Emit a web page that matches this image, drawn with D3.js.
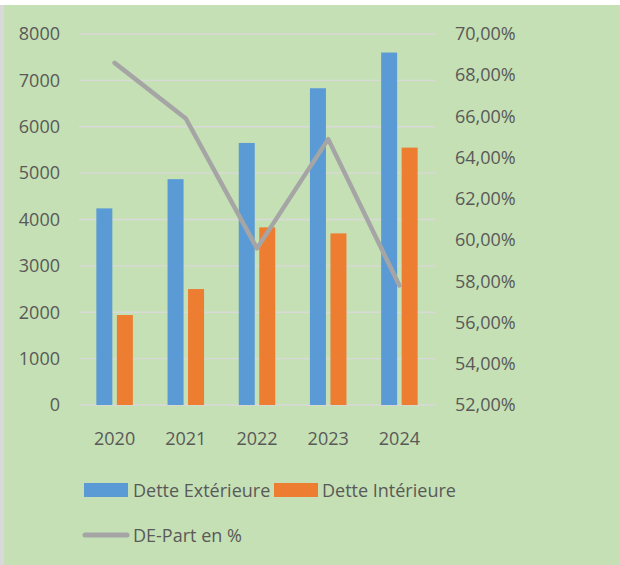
<!DOCTYPE html>
<html>
<head>
  <meta charset="utf-8">
  <script src="https://d3js.org/d3.v7.min.js"></script>
  <style>
    body { margin: 0; background: #fff; }
    svg { display: block; }
    text { font-family: "Open Sans", sans-serif; fill: #595959; }
  </style>
</head>
<body>
  <div id="chart"></div>
  <script>
    // chart data
    var years = ["2020", "2021", "2022", "2023", "2024"];
    var detteExt = [4240, 4870, 5650, 6830, 7600];
    var detteInt = [1940, 2500, 3830, 3700, 5550];
    var dePart = [68.6, 65.9, 59.6, 64.9, 57.8];
    var leftTicks = [0, 1000, 2000, 3000, 4000, 5000, 6000, 7000, 8000];
    var rightTicks = [52, 54, 56, 58, 60, 62, 64, 66, 68, 70];

    var width = 620, height = 565;
    var plot = { left: 79, right: 435, top: 34, bottom: 405 };

    var svg = d3.select("#chart").append("svg")
      .attr("width", width).attr("height", height);

    // background + left edge
    svg.append("rect").attr("x", 0).attr("y", 5).attr("width", 4).attr("height", height - 5)
      .attr("fill", "#d9d9d9");
    svg.append("rect").attr("x", 4).attr("y", 5).attr("width", width - 4).attr("height", height - 5)
      .attr("fill", "#C5E0B4");

    var x = d3.scaleBand().domain(years).range([plot.left, plot.right]);
    var yLeft = d3.scaleLinear().domain([0, 8000]).range([plot.bottom, plot.top]);
    var yRight = d3.scaleLinear().domain([52, 70]).range([plot.bottom, plot.top]);

    // gridlines
    svg.append("g")
      .selectAll("line")
      .data(leftTicks)
      .enter().append("line")
      .attr("x1", plot.left).attr("x2", plot.right)
      .attr("y1", d => yLeft(d)).attr("y2", d => yLeft(d))
      .attr("stroke", "#d9d9d9").attr("stroke-width", 1.3);

    // left axis
    var leftAxis = svg.append("g")
      .attr("transform", "translate(60,0)")
      .call(d3.axisLeft(yLeft).tickValues(leftTicks).tickSize(0).tickPadding(0).tickFormat(d3.format("d")));
    leftAxis.select(".domain").remove();

    // right axis
    var fmtPct = d => d.toFixed(2).replace(".", ",") + "%";
    var rightAxis = svg.append("g")
      .attr("transform", "translate(455,0)")
      .call(d3.axisRight(yRight).tickValues(rightTicks).tickSize(0).tickPadding(0).tickFormat(fmtPct));
    rightAxis.select(".domain").remove();

    // x axis labels
    var bottomAxis = svg.append("g")
      .attr("transform", "translate(0," + (plot.bottom + 27) + ")")
      .call(d3.axisBottom(x).tickSize(0).tickPadding(0));
    bottomAxis.select(".domain").remove();

    svg.selectAll(".tick text")
      .style("font-size", "18px")
      .style("fill", "#595959")
      .style("font-family", "'Open Sans', sans-serif");

    // bars
    var barW = 16, gap = 4.5;
    var bars = svg.append("g");
    bars.selectAll(".ext")
      .data(detteExt)
      .enter().append("rect")
      .attr("class", "ext")
      .attr("x", (d, i) => x(years[i]) + x.bandwidth() / 2 - gap / 2 - barW)
      .attr("y", d => yLeft(d))
      .attr("width", barW)
      .attr("height", d => yLeft(0) - yLeft(d))
      .attr("fill", "#5B9BD5");
    bars.selectAll(".int")
      .data(detteInt)
      .enter().append("rect")
      .attr("class", "int")
      .attr("x", (d, i) => x(years[i]) + x.bandwidth() / 2 + gap / 2)
      .attr("y", d => yLeft(d))
      .attr("width", barW)
      .attr("height", d => yLeft(0) - yLeft(d))
      .attr("fill", "#ED7D31");

    // line
    var line = d3.line()
      .x((d, i) => x(years[i]) + x.bandwidth() / 2)
      .y(d => yRight(d));
    svg.append("path")
      .datum(dePart)
      .attr("d", line)
      .attr("fill", "none")
      .attr("stroke", "#A5A5A5")
      .attr("stroke-width", 4.5)
      .attr("stroke-linejoin", "round")
      .attr("stroke-linecap", "round");

    // legend
    var legend = svg.append("g").style("font-size", "18px");
    legend.append("rect").attr("x", 84).attr("y", 483).attr("width", 44).attr("height", 14).attr("fill", "#5B9BD5");
    legend.append("text").attr("x", 133).attr("y", 497).text("Dette Extérieure");
    legend.append("rect").attr("x", 274).attr("y", 483).attr("width", 44).attr("height", 14).attr("fill", "#ED7D31");
    legend.append("text").attr("x", 322).attr("y", 497).text("Dette Intérieure");
    legend.append("line").attr("x1", 85).attr("x2", 127).attr("y1", 535).attr("y2", 535)
      .attr("stroke", "#A5A5A5").attr("stroke-width", 5).attr("stroke-linecap", "round");
    legend.append("text").attr("x", 133).attr("y", 542).text("DE-Part en %");
  </script>
</body>
</html>
